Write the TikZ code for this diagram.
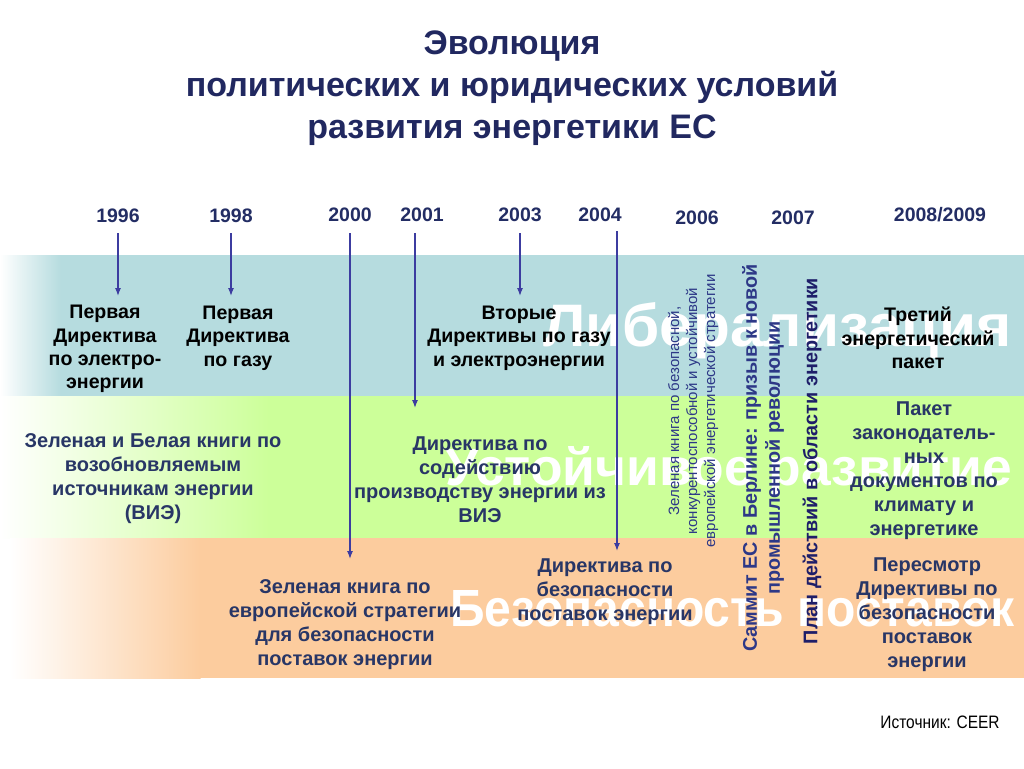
\documentclass[tikz,border=0pt]{standalone}
\usepackage{fontspec}
\setmainfont{Liberation Sans}
\newfontfamily\narrowfont[FakeStretch=0.86]{Liberation Sans}
\usetikzlibrary{arrows.meta}
\definecolor{titlenavy}{RGB}{33,40,96}
\definecolor{yearnavy}{RGB}{35,45,100}
\definecolor{arrowblue}{RGB}{60,60,160}
\definecolor{textnavy}{RGB}{40,54,102}
\definecolor{vertblue}{RGB}{45,56,135}
\definecolor{plannavy}{RGB}{30,30,105}
\definecolor{bandblue}{RGB}{182,220,223}
\definecolor{bandgreen}{RGB}{204,255,153}
\definecolor{bandorange}{RGB}{252,204,158}
\begin{document}
\begin{tikzpicture}[x=1pt,y=-1pt,
  titletext/.style={font=\fontsize{34}{42}\selectfont\bfseries, text=titlenavy, align=center, inner sep=0},
  yeartext/.style={font=\fontsize{19.5}{20}\selectfont\bfseries, text=yearnavy, inner sep=0},
  blacktext/.style={font=\fontsize{19.6}{23.3}\selectfont\bfseries, text=black, align=center, inner sep=0},
  navytext/.style={font=\fontsize{20}{24}\selectfont\bfseries, text=textnavy, align=center, inner sep=0},
  watermark/.style={text=white, inner sep=0, anchor=base west, font=\bfseries},
  arr/.style={draw=arrowblue, line width=1.2pt, -{Latex[length=8pt,width=6pt]}},
]
\useasboundingbox (0,0) rectangle (1024,768);
\fill[white] (0,0) rectangle (1024,768);

% bands
\fill[bandblue] (60,255) rectangle (1024,396);
\shade[left color=white, right color=bandblue] (0,255) rectangle (60.5,396);
\fill[bandgreen] (270,396) rectangle (1024,538);
\shade[left color=white, middle color=bandgreen!40, right color=bandgreen] (0,396) rectangle (270.5,538);
\fill[bandorange] (200,538) rectangle (1024,678);
\shade[left color=white, middle color=bandorange!45, right color=bandorange] (10,538) rectangle (200.5,678);

% watermark words
\node[watermark] (wm1) at (543,346) {\resizebox{468pt}{44pt}{Либерализация}};
\node[watermark] (wm2) at (445,485) {\resizebox{567pt}{39pt}{Устойчивое развитие}};
\node[watermark] (wm3) at (450,626) {\resizebox{564pt}{36pt}{Безопасность поставок}};

% title
\node[titletext] (title) at (512,88) {Эволюция\\политических и юридических условий\\развития энергетики ЕС};

% years
\node[yeartext] (y1996) at (118,216) {1996};
\node[yeartext] (y1998) at (231,216) {1998};
\node[yeartext] (y2000) at (350,215) {2000};
\node[yeartext] (y2001) at (422,215) {2001};
\node[yeartext] (y2003) at (520,215) {2003};
\node[yeartext] (y2004) at (600,215) {2004};
\node[yeartext] (y2006) at (697,218) {2006};
\node[yeartext] (y2007) at (793,218) {2007};
\node[yeartext] (y2009) at (940,215) {2008/2009};

% arrow coordinates
\coordinate (s1996) at (118,233); \coordinate (t1996) at (118,296);
\coordinate (s1998) at (231,233); \coordinate (t1998) at (231,296);
\coordinate (s2000) at (350,233); \coordinate (t2000) at (350,559);
\coordinate (s2001) at (415,233); \coordinate (t2001) at (415,408);
\coordinate (s2003) at (520,233); \coordinate (t2003) at (520,296);
\coordinate (s2004) at (617,231); \coordinate (t2004) at (617,551);

\draw[arr] (s1996) -- (t1996);
\draw[arr] (s1998) -- (t1998);
\draw[arr] (s2000) -- (t2000);
\draw[arr] (s2001) -- (t2001);
\draw[arr] (s2003) -- (t2003);
\draw[arr] (s2004) -- (t2004);

% blue band texts
\node[blacktext] (n1) at (105,349) {Первая\\Директива\\по электро-\\энергии};
\node[blacktext] (n2) at (238,338) {Первая\\Директива\\по газу};
\node[blacktext] (n3) at (519,338) {Вторые\\Директивы по газу\\и электроэнергии};
\node[blacktext] (n4) at (918,338) {Третий\\энергетический\\пакет};

% green band texts
\node[navytext] (g1) at (153,479) {Зеленая и Белая книги по\\возобновляемым\\источникам энергии\\(ВИЭ)};
\node[navytext] (g2) at (480,480) {Директива по\\содействию\\производству энергии из\\ВИЭ};
\node[navytext] (g3) at (924,471) {Пакет\\законодатель-\\ных\\документов по\\климату и\\энергетике};

% orange band texts
\node[navytext] (o1) at (345,625) {Зеленая книга по\\европейской стратегии\\для безопасности\\поставок энергии};
\node[navytext] (o2) at (605,592) {Директива по\\безопасности\\поставок энергии};
\node[navytext] (o3) at (927,615) {Пересмотр\\Директивы по\\безопасности\\поставок\\энергии};

% vertical texts
\node[rotate=90, align=center, inner sep=0, text=vertblue, font=\fontsize{15}{18}\selectfont] (v1) at (693,411)
  {Зеленая книга по безопасной,\\конкурентоспособной и устойчивой\\европейской энергетической стратегии};
\node[rotate=90, align=center, inner sep=0, text=vertblue, font=\fontsize{19.8}{23}\selectfont\bfseries] (v2) at (763,458)
  {Саммит ЕС в Берлине: призыв к новой\\промышленной революции};
\node[rotate=90, align=center, inner sep=0, text=plannavy, font=\fontsize{19.8}{23}\selectfont\bfseries] (v3) at (812,461)
  {План действий в области энергетики};

% source
\node[inner sep=0, font=\narrowfont\fontsize{18}{18}\selectfont, text=black] (src) at (940,722) {Источник: CEER};
\end{tikzpicture}
\end{document}
